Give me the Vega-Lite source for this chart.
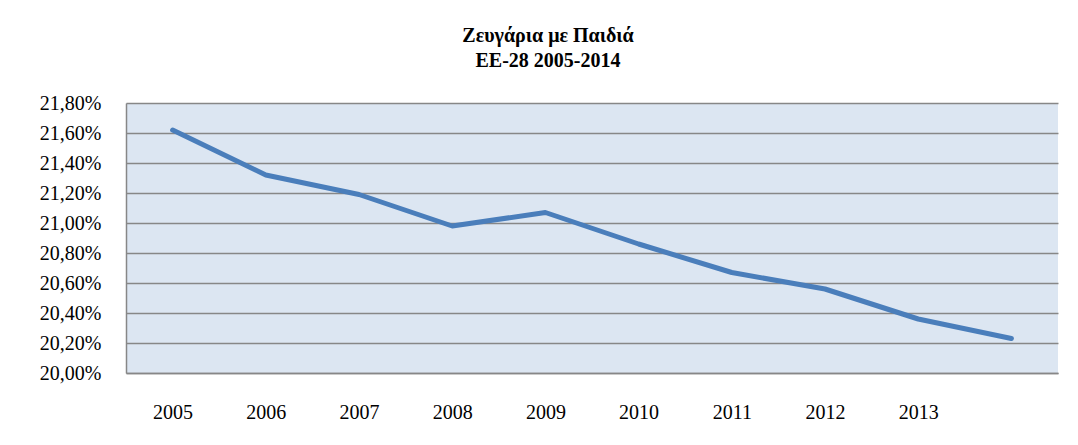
{
  "$schema": "https://vega.github.io/schema/vega-lite/v6.json",
  "autosize": {"type": "none"},
  "padding": {"left": 126, "top": 103, "right": 20, "bottom": 72},
  "width": 932,
  "height": 270,
  "background": "white",
  "title": {
    "text": ["Ζευγάρια με Παιδιά", "ΕΕ-28 2005-2014"],
    "font": "Liberation Serif",
    "fontSize": 20,
    "fontWeight": "bold",
    "color": "#000000",
    "lineHeight": 25,
    "anchor": "middle",
    "dx": -44,
    "offset": 22
  },
  "data": {
    "values": [
      {"year": "2005", "value": 21.62},
      {"year": "2006", "value": 21.32},
      {"year": "2007", "value": 21.19},
      {"year": "2008", "value": 20.98},
      {"year": "2009", "value": 21.07},
      {"year": "2010", "value": 20.86},
      {"year": "2011", "value": 20.67},
      {"year": "2012", "value": 20.56},
      {"year": "2013", "value": 20.36},
      {"year": "2014", "value": 20.23}
    ]
  },
  "mark": {"type": "line", "color": "#4A7EBB", "strokeWidth": 5, "strokeCap": "round", "strokeJoin": "round"},
  "encoding": {
    "x": {
      "field": "year",
      "type": "ordinal",
      "scale": {"type": "point", "padding": 0.5},
      "axis": {
        "title": null,
        "labelAngle": 0,
        "labelFont": "Liberation Serif",
        "labelFontSize": 20,
        "labelColor": "#000000",
        "labelPadding": 29,
        "ticks": false,
        "grid": false,
        "domain": true,
        "domainColor": "#878787",
        "domainWidth": 1.5,
        "labelExpr": "datum.value == '2014' ? '' : datum.label"
      }
    },
    "y": {
      "field": "value",
      "type": "quantitative",
      "scale": {"domain": [20, 21.8], "zero": false, "nice": false},
      "axis": {
        "title": null,
        "values": [20, 20.2, 20.4, 20.6, 20.8, 21, 21.2, 21.4, 21.6, 21.8],
        "labelExpr": "replace(format(datum.value, '.2f'), '.', ',') + '%'",
        "labelFont": "Liberation Serif",
        "labelFontSize": 20,
        "labelColor": "#000000",
        "labelPadding": 25,
        "ticks": false,
        "grid": true,
        "gridColor": "#878787",
        "gridWidth": 1.5,
        "gridOpacity": 1,
        "domain": true,
        "domainColor": "#878787",
        "domainWidth": 1.5
      }
    }
  },
  "config": {
    "view": {"fill": "#DCE6F2", "stroke": null}
  }
}
